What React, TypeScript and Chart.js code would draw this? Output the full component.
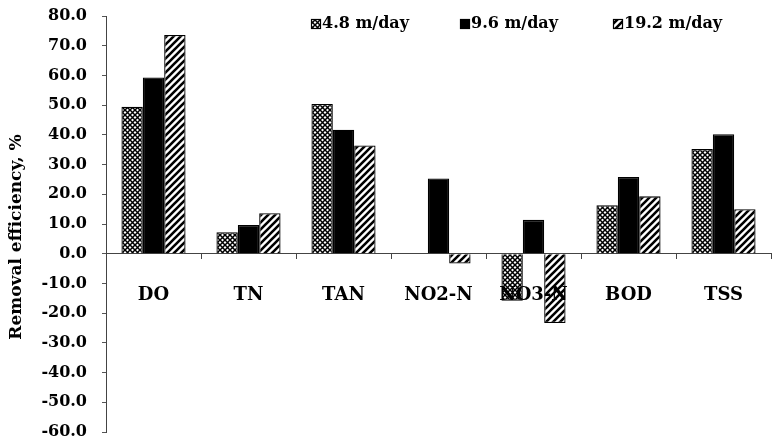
import React, { useEffect, useRef } from "react";
import { Chart, registerables } from "chart.js";

Chart.register(...registerables);

const categories = ["DO", "TN", "TAN", "NO2-N", "NO3-N", "BOD", "TSS"];
const seriesLabels = ["4.8 m/day", "9.6 m/day", "19.2 m/day"];
const rate48 = [49.5, 7.2, 50.4, 0, -15.8, 16.3, 35.2];
const rate96 = [59.3, 9.7, 41.7, 25.3, 11.4, 25.8, 40.2];
const rate192 = [73.6, 13.6, 36.4, -3.3, -23.3, 19.3, 15.0];
const yTitle = "Removal efficiency, %";
const yMin = -60;
const yMax = 80;
const yStep = 10;

const FONT = '"DejaVu Serif", "Liberation Serif", serif';

function makeCrossHatch(): CanvasPattern | string {
  const c = document.createElement("canvas");
  const s = 5;
  c.width = s;
  c.height = s;
  const g = c.getContext("2d");
  if (!g) return "#777";
  g.fillStyle = "#fff";
  g.fillRect(0, 0, s, s);
  g.strokeStyle = "#000";
  g.lineWidth = 1.5;
  g.beginPath();
  g.moveTo(0, 0);
  g.lineTo(s, s);
  g.moveTo(0, s);
  g.lineTo(s, 0);
  g.stroke();
  return g.createPattern(c, "repeat") || "#777";
}

function makeStripes(): CanvasPattern | string {
  const c = document.createElement("canvas");
  const s = 7;
  c.width = s;
  c.height = s;
  const g = c.getContext("2d");
  if (!g) return "#bbb";
  g.fillStyle = "#fff";
  g.fillRect(0, 0, s, s);
  g.strokeStyle = "#000";
  g.lineWidth = 2.6;
  g.beginPath();
  g.moveTo(-1, s + 1);
  g.lineTo(s + 1, -1);
  g.moveTo(-2, 2);
  g.lineTo(2, -2);
  g.moveTo(s - 2, s + 2);
  g.lineTo(s + 2, s - 2);
  g.stroke();
  return g.createPattern(c, "repeat") || "#bbb";
}

const legendPlugin = {
  id: "insideLegend",
  afterDraw(chart: any) {
    const ctx = chart.ctx as CanvasRenderingContext2D;
    const xs = [311, 460, 613];
    const y = 23;
    ctx.save();
    ctx.font = `bold 16px ${FONT}`;
    ctx.textBaseline = "middle";
    ctx.textAlign = "left";
    chart.data.datasets.forEach((ds: any, i: number) => {
      const x = xs[i];
      ctx.fillStyle = ds.backgroundColor;
      ctx.fillRect(x, y - 4, 9, 9);
      ctx.strokeStyle = "#000";
      ctx.lineWidth = 1.2;
      ctx.strokeRect(x + 0.5, y - 3.5, 9, 9);
      ctx.fillStyle = "#000";
      ctx.fillText(ds.label, x + 11, y + 1);
    });
    // rotated y-axis title
    ctx.save();
    ctx.translate(17, 237);
    ctx.rotate(-Math.PI / 2);
    ctx.font = `bold 17px ${FONT}`;
    ctx.textAlign = "center";
    ctx.textBaseline = "middle";
    ctx.fillStyle = "#000";
    ctx.fillText(yTitle, 0, 0);
    ctx.restore();
    ctx.restore();
  },
};

export default function App() {
  const ref = useRef<HTMLCanvasElement | null>(null);

  useEffect(() => {
    if (!ref.current) return;
    const hatch = makeCrossHatch();
    const stripes = makeStripes();
    const common = {
      borderColor: "#000",
      borderWidth: 1.3,
      categoryPercentage: 0.675,
      barPercentage: 1.0,
    };
    const chart = new Chart(ref.current, {
      type: "bar",
      data: {
        labels: categories,
        datasets: [
          { label: seriesLabels[0], data: rate48, backgroundColor: hatch as any, ...common },
          { label: seriesLabels[1], data: rate96, backgroundColor: "#000", ...common },
          { label: seriesLabels[2], data: rate192, backgroundColor: stripes as any, ...common },
        ],
      },
      options: {
        animation: false,
        responsive: false,
        devicePixelRatio: 1,
        layout: { padding: { top: 16, bottom: 11, left: 0, right: 3 } },
        plugins: {
          legend: { display: false },
          tooltip: { enabled: false },
        },
        scales: {
          x: {
            position: { y: 0 } as any,
            afterFit: (scale: any) => {
              scale.paddingTop = 0;
              scale.paddingBottom = 0;
            },
            grid: {
              display: true,
              drawOnChartArea: false,
              drawTicks: true,
              tickLength: 5,
              color: "#444",
              lineWidth: 1,
            },
            border: { display: true, color: "#444", dash: [2, 3], width: 1 },
            ticks: {
              z: 1,
              color: "#000",
              padding: 26,
              font: { family: FONT, size: 18, weight: "bold" },
            },
          },
          y: {
            min: yMin,
            max: yMax,
            afterFit: (scale: any) => {
              scale.width = 106;
              scale.paddingTop = 0;
              scale.paddingBottom = 0;
            },
            grid: {
              display: true,
              drawOnChartArea: false,
              drawTicks: true,
              tickLength: 4,
              color: "#555",
            },
            border: { display: true, color: "#444", dash: [2, 2], width: 1 },
            ticks: {
              stepSize: yStep,
              color: "#000",
              padding: 15,
              font: { family: FONT, size: 16, weight: "bold" },
              callback: (v: any) => Number(v).toFixed(1),
            },
            title: { display: false },
          },
        },
      },
      plugins: [legendPlugin],
    });
    return () => chart.destroy();
  }, []);

  return (
    <div style={{ position: "absolute", left: 0, top: 0, width: 774, height: 443, background: "#fff" }}>
      <canvas ref={ref} width={774} height={443} style={{ display: "block" }} />
    </div>
  );
}
